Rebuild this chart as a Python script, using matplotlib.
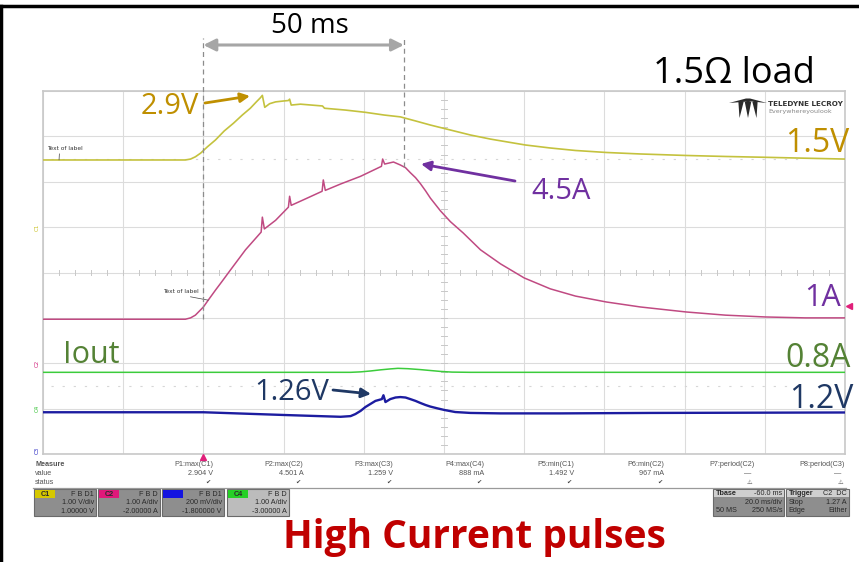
import numpy as np
import matplotlib.pyplot as plt
from matplotlib.patches import Rectangle, Polygon

W, H = 859, 562

# ---- acquisition data (time in ms relative to trigger) ----
c1_t = [-40, -4.5, -3.2, -2.0, -0.7, 1.0, 3.0, 5.2, 7.5, 9.7, 11.7, 13.2, 14.2, 14.7, 15.3,
        16.5, 18.0, 20.0, 21.2, 21.5, 21.9, 24.2, 29.7, 30.2, 35.4, 40.4, 45.1, 49.1, 52.9,
        56.6, 61.6, 66.6, 71.6, 76.6, 80.3, 86.5, 92.8, 100.5, 109.0, 120.4, 130.2, 140.1,
        150.1, 160]
c1_v = [1.48, 1.48, 1.50, 1.55, 1.63, 1.77, 1.92, 2.12, 2.29, 2.47, 2.62, 2.76, 2.85, 2.904, 2.64,
        2.72, 2.76, 2.78, 2.79, 2.82, 2.69, 2.71, 2.67, 2.62, 2.58, 2.53, 2.47, 2.43, 2.34,
        2.25, 2.14, 2.03, 1.94, 1.865, 1.81, 1.744, 1.689, 1.645, 1.612, 1.579, 1.557, 1.539,
        1.519, 1.50]

c2_t = [-40, -4.5, -3.2, -2.0, -1.0, 0.0, 1.2, 3.0, 4.7, 6.7, 10.5, 14.4, 14.7, 15.2, 18.0,
        21.2, 21.5, 21.9, 25.4, 29.6, 29.9, 30.4, 34.2, 39.2, 44.4, 44.7, 45.2, 47.4, 49.1,
        50.4, 51.6, 52.9, 54.1, 55.4, 56.6, 59.1, 61.6, 64.8, 69.1, 74.1, 80.0, 86.5, 92.8,
        100.5, 109.0, 120.4, 130.2, 140.1, 150.1, 160]
c2_i = [0.97, 0.97, 1.00, 1.06, 1.15, 1.24, 1.39, 1.61, 1.81, 2.05, 2.50, 2.89, 3.22, 2.96, 3.15,
        3.44, 3.68, 3.48, 3.62, 3.79, 4.04, 3.81, 3.95, 4.12, 4.34, 4.501, 4.39, 4.435, 4.37,
        4.31, 4.20, 4.09, 3.96, 3.80, 3.64, 3.36, 3.12, 2.87, 2.50, 2.19, 1.88, 1.64, 1.48,
        1.35, 1.24, 1.13, 1.06, 1.02, 1.00, 1.00]

c3_t = [-40, 0.0, 20.0, 34.2, 36.7, 37.9, 39.2, 40.4, 41.6, 42.9, 44.5, 44.9, 45.4, 46.6,
        47.9, 49.1, 50.4, 51.6, 52.9, 54.1, 55.4, 56.6, 58.4, 60.1, 62.8, 66.6, 74.1, 89.0,
        111.5, 160]
c3_v = [1.184, 1.184, 1.172, 1.164, 1.167, 1.176, 1.190, 1.207, 1.220, 1.234, 1.242, 1.259,
        1.229, 1.242, 1.249, 1.251, 1.249, 1.242, 1.234, 1.225, 1.216, 1.209, 1.201, 1.194,
        1.185, 1.181, 1.179, 1.179, 1.181, 1.183]

c4_t = [-40, 36.7, 39.2, 41.7, 44.2, 46.6, 48.5, 51.0, 54.1, 56.6, 59.1, 62.0, 66.6, 160]
c4_i = [0.80, 0.80, 0.81, 0.83, 0.855, 0.875, 0.888, 0.88, 0.86, 0.84, 0.82, 0.805, 0.80, 0.80]

# vertical settings per channel: (volts-or-amps per div, offset)
ch_scale = {"C1": 1.0, "C2": 1.0, "C3": 0.2, "C4": 1.0}
ch_offset = {"C1": 1.0, "C2": -2.0, "C3": -1.8, "C4": -3.0}
ch_trace_color = {"C1": "#c4c23e", "C2": "#c04a82", "C3": "#1c1ca0", "C4": "#3ccc3c"}

span_ms = 50          # annotated pulse width
trig_level = 1.27     # A on C2

def to_div(ch, vals):
    return 4 + (np.asarray(vals, dtype=float) + ch_offset[ch]) / ch_scale[ch]

GOLD, PURPLE, OLIVE, NAVY, RED = "#bf8f00", "#7030a0", "#548235", "#1f3864", "#c00000"
LABEL_FONT = ["Open Sans", "DejaVu Sans"]

fig = plt.figure(figsize=(W / 100, H / 100), dpi=100)
GL, GR, GT, GB = 43, 845, 91, 454
PX_DIV = (GB - GT) / 8
ax = fig.add_axes([GL / W, 1 - GB / H, (GR - GL) / W, (GB - GT) / H])
ax.set_xlim(-40, 160)
ax.set_ylim(0, 8)
ax.set_xticks([]); ax.set_yticks([])
for s in ax.spines.values():
    s.set_color("#c8c8c8"); s.set_linewidth(1.2)

# scope graticule
for xv in np.arange(-40, 161, 20):
    ax.axvline(xv, color="#dcdcdc", lw=0.8, zorder=0)
for yv in np.arange(0, 9, 1):
    ax.axhline(yv, color="#dcdcdc", lw=0.8, zorder=0)
for xv in np.arange(-40, 160.1, 4):
    ax.plot([xv, xv], [3.94, 4.06], color="#c8c8c8", lw=0.7, zorder=0)
for yv in np.arange(0, 8.01, 0.2):
    ax.plot([59.3, 60.7], [yv, yv], color="#c8c8c8", lw=0.7, zorder=0)
for yv in (6.5, 1.5):
    ax.plot([-38, 150], [yv, yv], color="#d6d6d6", lw=0.8, ls=(0, (2, 8)), zorder=0)

# traces
ax.plot(c1_t, to_div("C1", c1_v), color=ch_trace_color["C1"], lw=1.2, zorder=3)
ax.plot(c2_t, to_div("C2", c2_i), color=ch_trace_color["C2"], lw=1.1, zorder=3)
ax.plot(c4_t, to_div("C4", c4_i), color=ch_trace_color["C4"], lw=1.1, zorder=3)
ax.plot(c3_t, to_div("C3", c3_v), color=ch_trace_color["C3"], lw=1.7, zorder=3)

# pulse-width markers
top_div = (GB - 38) / PX_DIV
c2_atw = to_div("C2", np.interp(span_ms, c2_t, c2_i))
ax.plot([0, 0], [to_div("C2", min(c2_i)), top_div], color="#8c8c8c", lw=0.9,
        ls=(0, (4, 3)), clip_on=False, zorder=4)
ax.plot([span_ms, span_ms], [c2_atw, top_div], color="#8c8c8c", lw=0.9,
        ls=(0, (4, 3)), clip_on=False, zorder=4)
arr_div = (GB - 45) / PX_DIV
ax.annotate("", xy=(span_ms, arr_div), xytext=(0, arr_div), annotation_clip=False,
            arrowprops=dict(arrowstyle="<|-|>", color="#a6a6a6", lw=2.2,
                            mutation_scale=18, shrinkA=0, shrinkB=0))
ax.text(span_ms / 2 + 1.5, (GB - 33) / PX_DIV, f"{span_ms} ms", ha="center", va="baseline",
        fontsize=20, family=LABEL_FONT, color="black", clip_on=False)

# trigger markers
ax.plot([0], [-0.06], marker="^", color="#e0207a", ms=4, clip_on=False, zorder=5)
ax.plot([161], [to_div("C2", trig_level)], marker="<", color="#e0207a", ms=4,
        clip_on=False, zorder=5)

# channel ground markers on the left edge
for ch, col in (("C1", "#c8c020"), ("C2", "#d0207a"), ("C4", "#30c030"), ("C3", "#2020c0")):
    d = float(np.clip(to_div(ch, 0.0), 0.08, 8))
    ax.text(-40.8, d, ch, rotation=90, ha="right", va="center", fontsize=4,
            color=col, clip_on=False)

# small trace labels with leaders
def tag(xl, yl, xp, yp):
    ax.annotate("Text of label", xy=(xp, yp), xytext=(xl, yl), fontsize=4.2, color="#333333",
                ha="left", va="bottom", annotation_clip=False,
                arrowprops=dict(arrowstyle="-", color="#444444", lw=0.5,
                                shrinkA=0, shrinkB=0, relpos=(0.35, 0)))
tag(-39, (GB - 151) / PX_DIV, -36, to_div("C1", c1_v[0]))
tag(-10, (GB - 294) / PX_DIV, 1.2, to_div("C2", np.interp(1.2, c2_t, c2_i)))

# ---- overlay in pixel coordinates ----
ov = fig.add_axes([0, 0, 1, 1], zorder=10)
ov.set_xlim(0, W); ov.set_ylim(H, 0); ov.axis("off")

# slide frame
ov.plot([0, W], [6, 6], color="black", lw=2.5)
ov.plot([1.2, 1.2], [6, H], color="black", lw=2.5)

ov.text(653, 83, "1.5Ω load", fontsize=26, family=LABEL_FONT, color="black",
        ha="left", va="baseline")

def label(x, y, s, col, size, ha="left"):
    ov.text(x, y, s, fontsize=size, family=LABEL_FONT, color=col, ha=ha, va="baseline")

label(141, 114, "2.9V", GOLD, 21)
label(849, 152, "1.5V", GOLD, 23, ha="right")
label(531, 199, "4.5A", PURPLE, 21)
label(841, 306, "1A", PURPLE, 22, ha="right")
label(63, 363, "Iout", OLIVE, 22)
label(851, 367, "0.8A", OLIVE, 23, ha="right")
label(254, 400, "1.26V", NAVY, 21)
label(853, 408, "1.2V", NAVY, 23, ha="right")

def arrow(tail, tip, col):
    ov.annotate("", xy=tip, xytext=tail,
                arrowprops=dict(arrowstyle="-|>", color=col, lw=2.0, mutation_scale=14,
                                shrinkA=0, shrinkB=0))

arrow((205, 103), (250, 96), GOLD)
arrow((515, 181), (421, 164), PURPLE)
arrow((333, 390), (371, 394), NAVY)

# brand mark
ov.add_patch(Polygon([(729, 103), (746, 98.5), (750, 98.5), (767, 103), (752, 101.5),
                      (748, 101.5)], closed=True, color="#2a2a2a", lw=0))
for xc, w, dx in ((748, 3.2, 0.0), (741, 2.6, -1.5), (755, 2.6, 1.5)):
    ov.add_patch(Polygon([(xc - w, 102), (xc, 100.5), (xc + w, 102), (xc + dx, 118)],
                         closed=True, color="#2a2a2a", lw=0))
ov.text(768, 104.5, "TELEDYNE LECROY", fontsize=5.2, fontweight="bold", color="#333333",
        family="DejaVu Sans Condensed", ha="left", va="center")
ov.text(768, 111.5, "Everywhereyoulook", fontsize=4.6, color="#888888",
        family="DejaVu Sans Condensed", ha="left", va="center")

# measurement table
SMALL = dict(fontsize=5.2, family="Liberation Sans", color="#555555")
ov.text(35, 465, "Measure", ha="left", va="center", fontweight="bold", **SMALL)
ov.text(35, 473.5, "value", ha="left", va="center", **SMALL)
ov.text(35, 482, "status", ha="left", va="center", **SMALL)
meas_names = ["P1:max(C1)", "P2:max(C2)", "P3:max(C3)", "P4:max(C4)",
              "P5:min(C1)", "P6:min(C2)", "P7:period(C2)", "P8:period(C3)"]
meas_vals = ["2.904 V", "4.501 A", "1.259 V", "888 mA", "1.492 V", "967 mA", "—", "—"]
meas_ok = [True, True, True, True, True, True, False, False]
for i, (nm, vl, ok) in enumerate(zip(meas_names, meas_vals, meas_ok)):
    xr = 213 + i * 90.3
    ov.text(xr, 465, nm, ha="right", va="center", **SMALL)
    ov.text(xr - (0 if ok else 4), 473.5, vl, ha="right", va="center", **SMALL)
    ov.text(xr - 5, 482, "✔" if ok else "⚠", ha="center", va="center", fontsize=4.5,
            color="#444444", family="DejaVu Sans")
ov.plot([33, 846], [487.5, 487.5], color="#9a9a9a", lw=0.9)

BOX = dict(fontsize=5.2, family="Liberation Sans", color="#2a2a2a")
ch_boxes = [("C1", 34, "#d6c800", "C1", "F B D1", "1.00 V/div", "1.00000 V", "#8e8e8e"),
            ("C2", 98, "#e0187a", "C2", "F B D", "1.00 A/div", "-2.00000 A", "#8e8e8e"),
            ("C3", 162, "#1414e0", "", "F B D1", "200 mV/div", "-1.800000 V", "#8e8e8e"),
            ("C4", 227, "#26d026", "C4", "F B D", "1.00 A/div", "-3.00000 A", "#bcbcbc")]
for ch, x0, tagc, tagtxt, flags, vdiv, offs, fill in ch_boxes:
    ov.add_patch(Rectangle((x0, 489), 62, 27, facecolor=fill, edgecolor="#6a6a6a", lw=0.8))
    ov.add_patch(Rectangle((x0 + 1, 490), 20, 8, facecolor=tagc, edgecolor="none"))
    if tagtxt:
        ov.text(x0 + 11, 494, tagtxt, ha="center", va="center", fontweight="bold", **BOX)
    ov.text(x0 + 60, 494, flags, ha="right", va="center", **BOX)
    ov.text(x0 + 60, 503, vdiv, ha="right", va="center", **BOX)
    ov.text(x0 + 60, 511.5, offs, ha="right", va="center", **BOX)

for x0, w, rows in ((713, 71, [("Tbase", "-60.0 ms"), ("", "20.0 ms/div"), ("50 MS", "250 MS/s")]),
                    (786, 63, [("Trigger", "C2  DC"), ("Stop", "1.27 A"), ("Edge", "Either")])):
    ov.add_patch(Rectangle((x0, 489), w, 26.5, facecolor="#8e8e8e", edgecolor="#6a6a6a", lw=0.8))
    ov.add_patch(Rectangle((x0 + 0.5, 489.5), w - 1, 7.5, facecolor="#cfcfcf", edgecolor="none"))
    for k, (lt, rt) in enumerate(rows):
        yy = 493.5 + k * 8.5
        ov.text(x0 + 2.5, yy, lt, ha="left", va="center",
                fontweight="bold" if k == 0 else "normal", **BOX)
        ov.text(x0 + w - 2, yy, rt, ha="right", va="center", **BOX)

ov.text(474, 548, "High Current pulses", fontsize=28, fontweight="bold", family="Open Sans",
        color=RED, ha="center", va="baseline")

fig.savefig("out.png", dpi=100)
